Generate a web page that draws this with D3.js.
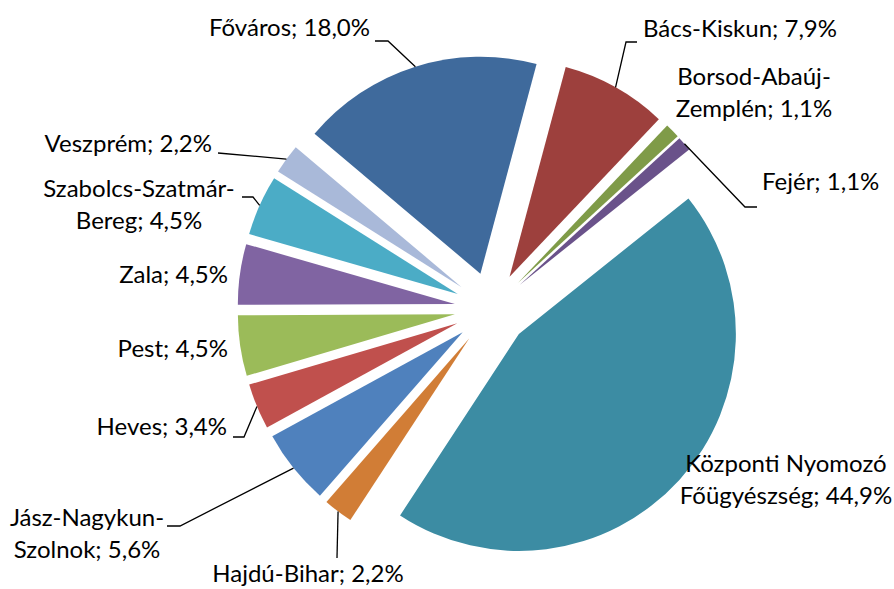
<!DOCTYPE html>
<html>
<head>
<meta charset="utf-8">
<script src="https://cdn.jsdelivr.net/npm/d3@7"></script>
<style>
  body { margin: 0; background: #fff; }
  .lbl { font-family: Lato, "Open Sans", sans-serif; font-size: 24px; fill: #000; }
</style>
</head>
<body>
<div id="chart"></div>
<script>
// slice data, clockwise from the first slice
const names = ["Bács-Kiskun", "Borsod-Abaúj-Zemplén", "Fejér", "Központi Nyomozó Főügyészség",
    "Hajdú-Bihar", "Jász-Nagykun-Szolnok", "Heves", "Pest", "Zala",
    "Szabolcs-Szatmár-Bereg", "Veszprém", "Főváros"];
const shares = [7.9, 1.1, 1.1, 44.9, 2.2, 5.6, 3.4, 4.5, 4.5, 4.5, 2.2, 18.0];
// label text as it is broken into lines on the chart
const labelLines = [
    ["Bács-Kiskun; 7,9%"],
    ["Borsod-Abaúj-", "Zemplén; 1,1%"],
    ["Fejér; 1,1%"],
    ["Központi Nyomozó", "Főügyészség; 44,9%"],
    ["Hajdú-Bihar; 2,2%"],
    ["Jász-Nagykun-", "Szolnok; 5,6%"],
    ["Heves; 3,4%"],
    ["Pest; 4,5%"],
    ["Zala; 4,5%"],
    ["Szabolcs-Szatmár-", "Bereg; 4,5%"],
    ["Veszprém; 2,2%"],
    ["Főváros; 18,0%"]
];
const colors = ["#9D403D", "#7F9B48", "#6A528A", "#3C8CA3", "#D17D36", "#4F81BD",
    "#C0504D", "#9BBB59", "#8064A2", "#4BACC6", "#A9B9D9", "#3F6A9C"];

// where Excel put each label (x, first baseline, anchor) and the leader start/knee
const labelLayout = [
    { x: 643, y: 37, anchor: "start", leader: [[637, 42], [626, 42]] },
    { x: 754, y: 85, anchor: "middle", leader: null },
    { x: 762, y: 190, anchor: "start", leader: [[757, 207], [745, 207]] },
    { x: 786, y: 472, anchor: "middle", leader: null },
    { x: 308, y: 582, anchor: "middle", leader: [[337, 558]] },
    { x: 87, y: 526, anchor: "middle", leader: [[167, 526], [180, 526]] },
    { x: 227, y: 435, anchor: "end", leader: [[233, 437], [244, 437]] },
    { x: 228, y: 357, anchor: "end", leader: null },
    { x: 228, y: 283, anchor: "end", leader: null },
    { x: 139, y: 197, anchor: "middle", leader: [[242, 197], [253, 197]] },
    { x: 212, y: 152, anchor: "end", leader: [[218, 153]] },
    { x: 370, y: 36, anchor: "end", leader: [[375, 41], [388, 41]] }
];

const width = 894, height = 589;
const cx = 491.5, cy = 309;
const radius = 217;
const explode = 37;
const lineGap = 32;

const svg = d3.select("#chart")
    .append("svg")
    .attr("width", width)
    .attr("height", height);

const data = names.map((n, i) => ({ name: n, value: shares[i], i: i }));

// clockwise from top, first slice starts at 15 degrees
const startA = 15 * Math.PI / 180;
const pie = d3.pie()
    .sort(null)
    .value(d => d.value)
    .startAngle(startA)
    .endAngle(startA + 2 * Math.PI);

const arcs = pie(data);
const arc = d3.arc().innerRadius(0).outerRadius(radius);

// offset of an exploded slice along its bisector
function shift(a, dist) {
    const mid = (a.startAngle + a.endAngle) / 2;
    return [Math.sin(mid) * dist, -Math.cos(mid) * dist];
}

const g = svg.append("g").attr("transform", `translate(${cx},${cy})`);

g.selectAll("path.slice")
    .data(arcs)
    .enter()
    .append("path")
    .attr("class", "slice")
    .attr("d", arc)
    .attr("fill", (d, i) => colors[i])
    .attr("transform", d => {
        const s = shift(d, explode);
        return `translate(${s[0]},${s[1]})`;
    });

// leader lines: from label knee to the outer rim of the slice at its mid angle
const line = d3.line();
arcs.forEach((a, i) => {
    const lay = labelLayout[i];
    if (!lay.leader) return;
    const off = shift(a, explode);
    const rim = shift(a, radius);
    const end = [cx + off[0] + rim[0], cy + off[1] + rim[1]];
    svg.append("path")
        .attr("d", line(lay.leader.concat([end])))
        .attr("fill", "none")
        .attr("stroke", "#000")
        .attr("stroke-width", 1.3);
});

// labels
labelLines.forEach((lines, i) => {
    const lay = labelLayout[i];
    const t = svg.append("text")
        .attr("class", "lbl")
        .attr("text-anchor", lay.anchor);
    lines.forEach((s, k) => {
        t.append("tspan")
            .attr("x", lay.x)
            .attr("y", lay.y + k * lineGap)
            .text(s);
    });
});
</script>
</body>
</html>
